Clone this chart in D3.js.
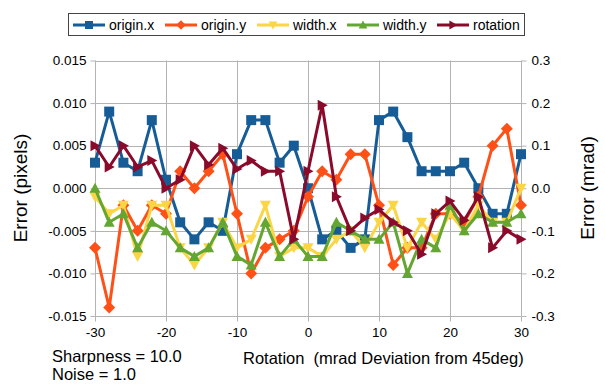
<!DOCTYPE html>
<html>
<head>
<meta charset="utf-8">
<script src="https://cdn.jsdelivr.net/npm/d3@7"></script>
<style>
  body { margin: 0; background: #fff; }
  svg { font-family: "Liberation Sans", Arial, sans-serif; }
</style>
</head>
<body>
<div id="chart"></div>
<script>
// rotation deviation (mrad), one point every 2
const rotations = d3.range(-30, 31, 2);

const originX = [0.003, 0.009, 0.003, 0.002, 0.008, 0.001, -0.004, -0.006, -0.004, -0.005, 0.004,
  0.008, 0.008, 0.003, 0.005, 0.000, -0.006, -0.005, -0.007, -0.006, 0.008,
  0.009, 0.006, 0.002, 0.002, 0.002, 0.003, 0.000, -0.003, -0.003, 0.004];
const originY = [-0.007, -0.014, -0.002, -0.005, -0.002, -0.003, 0.002, 0.000, 0.002, 0.004, -0.003,
  -0.010, -0.007, -0.006, -0.005, -0.001, 0.002, 0.001, 0.004, 0.004, -0.002,
  -0.009, -0.007, -0.007, -0.003, -0.003, -0.004, -0.001, 0.005, 0.007, -0.002];
const widthX = [-0.001, -0.003, -0.002, -0.008, -0.002, -0.002, -0.007, -0.009, -0.007, -0.004, -0.007,
  -0.006, -0.002, -0.008, -0.007, -0.007, -0.008, -0.006, -0.005, -0.007, -0.004,
  -0.002, -0.007, -0.004, -0.006, -0.003, -0.005, -0.002, -0.004, -0.004, 0.000];
const widthY = [0.000, -0.004, -0.003, -0.007, -0.004, -0.005, -0.007, -0.008, -0.007, -0.004, -0.008,
  -0.009, -0.004, -0.008, -0.006, -0.008, -0.008, -0.004, -0.005, -0.006, -0.006,
  -0.004, -0.010, -0.006, -0.007, -0.002, -0.005, -0.003, -0.004, -0.004, -0.003];
// rotation error on the right axis (mrad)
const rotationErr = [0.10, 0.05, 0.10, 0.05, 0.065, 0.00, 0.02, 0.10, 0.055, 0.094, 0.045,
  0.065, 0.04, 0.04, -0.12, 0.04, 0.195, -0.02, -0.10, -0.07, -0.05,
  -0.08, -0.10, -0.155, -0.06, -0.03, -0.075, -0.02, -0.14, -0.10, -0.12];

const leftTicks = [-0.015, -0.010, -0.005, 0.000, 0.005, 0.010, 0.015];
const rightTicks = [-0.3, -0.2, -0.1, 0.0, 0.1, 0.2, 0.3];
const xTicks = [-30, -20, -10, 0, 10, 20, 30];

const series = [
  { name: "origin.x", values: originX, color: "#165c97", marker: "square", axis: "left" },
  { name: "origin.y", values: originY, color: "#ff5117", marker: "diamond", axis: "left" },
  { name: "width.x", values: widthX, color: "#fad545", marker: "down", axis: "left" },
  { name: "width.y", values: widthY, color: "#64a632", marker: "up", axis: "left" },
  { name: "rotation", values: rotationErr, color: "#8a0a2c", marker: "right", axis: "right" }
];

const W = 605, H = 389;
const plot = { left: 95, right: 521, top: 60.5, bottom: 316 };

const svg = d3.select("#chart").append("svg")
  .attr("width", W).attr("height", H);

const x = d3.scaleLinear().domain([-30, 30]).range([plot.left, plot.right]);
const yL = d3.scaleLinear().domain([-0.015, 0.015]).range([plot.bottom, plot.top]);
const yR = d3.scaleLinear().domain([-0.3, 0.3]).range([plot.bottom, plot.top]);

// grid
const grid = svg.append("g").attr("stroke", "#b3b3b3").attr("stroke-width", 1);
leftTicks.forEach(t => {
  grid.append("line").attr("x1", plot.left).attr("x2", plot.right)
    .attr("y1", Math.round(yL(t)) + 0.5).attr("y2", Math.round(yL(t)) + 0.5);
});
xTicks.forEach(t => {
  grid.append("line").attr("y1", plot.top).attr("y2", plot.bottom)
    .attr("x1", Math.round(x(t)) + 0.5).attr("x2", Math.round(x(t)) + 0.5);
});

// axes
const fmtL = d3.format(".3f");
const fmtR = d3.format(".1f");
const styleAxis = g => {
  g.select(".domain").remove();
  g.selectAll(".tick line").attr("stroke", "#b3b3b3");
  g.selectAll(".tick text").attr("fill", "#000").style("font-size", "13.5px")
    .style("font-family", "Liberation Sans, Arial, sans-serif");
};
svg.append("g").attr("transform", `translate(${plot.left + 0.5},0)`)
  .call(d3.axisLeft(yL).tickValues(leftTicks).tickFormat(d => fmtL(d).replace("−", "-")).tickSize(5).tickPadding(4))
  .call(styleAxis);
svg.append("g").attr("transform", `translate(${plot.right + 0.5},0)`)
  .call(d3.axisRight(yR).tickValues(rightTicks).tickFormat(d => fmtR(d).replace("−", "-")).tickSize(5).tickPadding(5))
  .call(styleAxis);
svg.append("g").attr("transform", `translate(0,${plot.bottom + 0.5})`)
  .call(d3.axisBottom(x).tickValues(xTicks).tickFormat(d => String(d)).tickSize(5).tickPadding(6))
  .call(styleAxis);

// markers
function markerPath(type) {
  const s = 5;
  if (type === "square") return `M${-s},${-s}H${s}V${s}H${-s}Z`;
  if (type === "diamond") return `M0,${-s - 1}L${s + 1},0L0,${s + 1}L${-s - 1},0Z`;
  if (type === "down") return `M${-5.5},-4.5L5.5,-4.5L0,5.5Z`;
  if (type === "up") return `M${-5.5},4.5L5.5,4.5L0,-5.5Z`;
  return `M-4.5,-5.5L-4.5,5.5L5.5,0Z`;
}

series.forEach(s => {
  const y = s.axis === "left" ? yL : yR;
  const pts = rotations.map((r, i) => [x(r), y(s.values[i])]);
  const g = svg.append("g");
  g.append("path")
    .attr("d", d3.line()(pts))
    .attr("fill", "none")
    .attr("stroke", s.color)
    .attr("stroke-width", 3)
    .attr("stroke-linejoin", "round");
  g.selectAll("path.mk").data(pts).enter().append("path")
    .attr("class", "mk")
    .attr("transform", d => `translate(${d[0]},${d[1]})`)
    .attr("d", markerPath(s.marker))
    .attr("fill", s.color);
});

// legend
const legend = svg.append("g");
legend.append("rect").attr("x", 68.5).attr("y", 13.5).attr("width", 456).attr("height", 22)
  .attr("fill", "#fff").attr("stroke", "#444").attr("stroke-width", 1);
const legendX = [73, 165, 257, 347, 437];
series.forEach((s, i) => {
  const lx = legendX[i];
  legend.append("line").attr("x1", lx).attr("x2", lx + 32).attr("y1", 25).attr("y2", 25)
    .attr("stroke", s.color).attr("stroke-width", 3);
  legend.append("path").attr("transform", `translate(${lx + 16},25) scale(0.8)`)
    .attr("d", markerPath(s.marker)).attr("fill", s.color);
  legend.append("text").attr("x", lx + 36).attr("y", 30)
    .style("font-size", "14px").text(s.name);
});

// titles
svg.append("text")
  .attr("transform", `translate(27,188) rotate(-90)`)
  .attr("text-anchor", "middle").style("font-size", "19px")
  .text("Error (pixels)");
svg.append("text")
  .attr("transform", `translate(594,188) rotate(-90)`)
  .attr("text-anchor", "middle").style("font-size", "19px")
  .text("Error (mrad)");
svg.append("text").attr("x", 243).attr("y", 364).style("font-size", "16.5px")
  .text("Rotation  (mrad Deviation from 45deg)").attr("xml:space", "preserve");
svg.append("text").attr("x", 52).attr("y", 362).style("font-size", "16.5px").text("Sharpness = 10.0");
svg.append("text").attr("x", 52).attr("y", 380).style("font-size", "16.5px").text("Noise = 1.0");
</script>
</body>
</html>
